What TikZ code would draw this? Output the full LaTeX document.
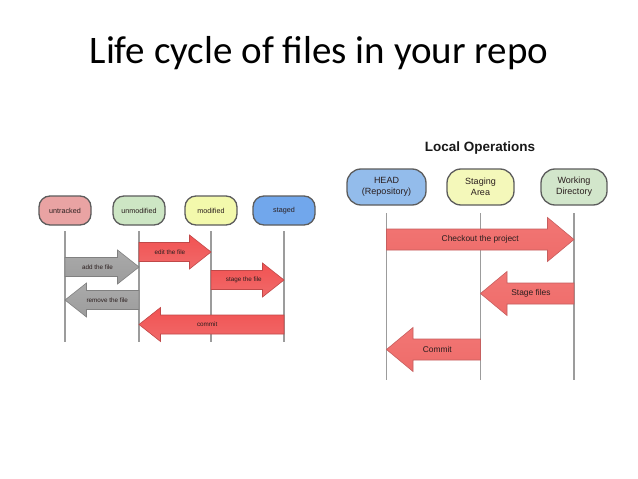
\documentclass[tikz,border=0pt]{standalone}
\usepackage{fontspec}
\setmainfont{Liberation Sans}
\newfontfamily\titlefont{Carlito}
\usetikzlibrary{calc}

\definecolor{untrackedfill}{HTML}{E9A3A3}
\definecolor{unmodifiedfill}{HTML}{CDE6C4}
\definecolor{modifiedfill}{HTML}{F3F9AC}
\definecolor{stagedfill}{HTML}{71A7EC}
\definecolor{headfill}{HTML}{93BCEB}
\definecolor{stagingfill}{HTML}{F4F8BA}
\definecolor{workfill}{HTML}{D2E6CB}
\definecolor{boxline}{HTML}{5C5C5C}
\definecolor{laneline}{HTML}{9C9C9C}
\definecolor{labeltext}{HTML}{2A1E1E}
\definecolor{redtop}{HTML}{F25252}
\definecolor{redbottom}{HTML}{F06A6A}
\definecolor{redline}{HTML}{C04848}
\definecolor{salmontop}{HTML}{F27674}
\definecolor{salmonbottom}{HTML}{EE6C6A}
\definecolor{salmonline}{HTML}{C65E5E}
\definecolor{graytop}{HTML}{AAAAAA}
\definecolor{graybottom}{HTML}{9C9C9C}
\definecolor{grayline}{HTML}{808080}

% #1 von, #2 nach, #3 y, #4 halber Schaft, #5 halbe Spitze, #6 Spitzenlaenge, #7 Stil, #8 Text, #9 pos
\newcommand\blockarrow[9]{%
  \coordinate (tail) at (#1 |- 0,#3);
  \coordinate (tip) at (#2 |- 0,#3);
  \coordinate (base) at ($(tip)!#6pt!(tail)$);
  \draw [#7]
    ($(tail)+(0,#4)$) -- ($(base)+(0,#4)$) -- ($(base)+(0,#5)$) --
    (tip) --
    ($(base)-(0,#5)$) -- ($(base)-(0,#4)$) -- ($(tail)-(0,#4)$) -- cycle;
  \node [arrowtext, name=#1-#2] at ($(tail)!#9!(tip)$) {#8};}

\begin{document}
\begin{tikzpicture}[x=1pt, y=-1pt,
    state/.style={draw=boxline, line width=1.3pt, rounded corners=11pt,
      minimum width=52pt, minimum height=29pt, inner sep=1pt,
      font=\fontsize{7.2}{8.6}\selectfont, text=labeltext},
    bigstate/.style={state, rounded corners=14pt, minimum height=36pt,
      minimum width=66pt, align=center, font=\fontsize{9}{11}\selectfont},
    lane/.style={draw=laneline, line width=1.1pt},
    arrowtext/.style={text=labeltext, inner sep=0pt, font=\fontsize{6.3}{7}\selectfont},
    redarrow/.style={draw=redline, line width=0.6pt,
      top color=redtop, bottom color=redbottom},
    grayarrow/.style={draw=grayline, line width=0.6pt,
      top color=graytop, bottom color=graybottom},
    salmonarrow/.style={draw=salmonline, line width=0.6pt,
      top color=salmontop, bottom color=salmonbottom}]

    \useasboundingbox [fill=white] (0,0) rectangle (638,479);

    % Titel
    \node [anchor=base, inner sep=0pt, font=\titlefont\fontsize{39}{46}\selectfont]
        (title) at (319,63) {Life cycle of files in your repo};

    % Linker Teil: Zustaende
    \node [state, fill=untrackedfill] (untracked) at (65,210.5) {untracked};
    \node [state, fill=unmodifiedfill] (unmodified) at (139,210.5) {unmodified};
    \node [state, fill=modifiedfill] (modified) at (211,210.5) {modified};
    \node [state, fill=stagedfill, minimum width=62pt] (staged) at (284,210.5) {staged};

    \foreach \s in {untracked,unmodified,modified,staged}
        \draw [lane] (\s |- 0,231) -- (\s |- 0,342);

    \blockarrow{unmodified}{modified}{252}{9.5}{17}{21.5}{redarrow}{edit the file}{0.43}
    \blockarrow{untracked}{unmodified}{267}{9.5}{17}{21.5}{grayarrow}{add the file}{0.44}
    \blockarrow{modified}{staged}{280}{9.5}{17}{21.5}{redarrow}{stage the file}{0.45}
    \blockarrow{unmodified}{untracked}{300}{9.5}{17}{21.5}{grayarrow}{remove the file}{0.43}
    \blockarrow{staged}{unmodified}{324.5}{9.5}{17}{21.5}{redarrow}{commit}{0.53}

    % Rechter Teil: Local Operations
    \node [font=\bfseries\fontsize{13.5}{16}\selectfont, text=black!90] (localops) at (480,148) {Local Operations};

    \node [bigstate, fill=headfill, minimum width=79pt] (head) at (386.5,187) {HEAD\\(Repository)};
    \node [bigstate, fill=stagingfill, minimum width=67pt] (staging) at (480.5,187) {Staging\\Area};
    \node [bigstate, fill=workfill] (work) at (574,187) {Working\\Directory};

    \foreach \s in {head,staging,work}
        \draw [lane] (\s |- 0,213) -- (\s |- 0,380);

    \tikzset{arrowtext/.style={text=labeltext, inner sep=0pt, font=\fontsize{8.4}{10}\selectfont}}
    \blockarrow{head}{work}{239.5}{10.5}{22}{26.5}{salmonarrow}{Checkout the project}{0.5}
    \blockarrow{work}{staging}{293.5}{10.5}{22}{26.5}{salmonarrow}{Stage files}{0.46}
    \blockarrow{staging}{head}{349.5}{10.5}{22}{26.5}{salmonarrow}{Commit}{0.46}
\end{tikzpicture}
\end{document}
